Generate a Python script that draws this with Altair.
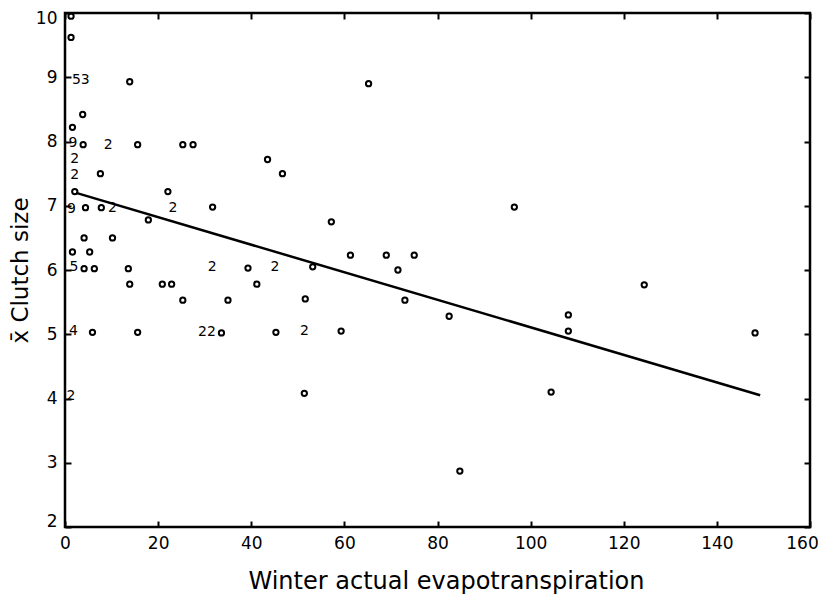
import altair as alt
import pandas as pd

# Observed points (winter AET, mean clutch size)
pt_x = [1.3, 1.3, 13.9, 3.8, 1.6, 3.9, 15.6, 25.3, 27.5, 7.6, 2.1, 22.1, 4.4, 7.8,
        17.9, 4.1, 10.2, 1.6, 5.3, 4.1, 6.3, 13.6, 13.9, 20.9, 22.9, 25.3, 5.9, 15.6,
        33.6, 43.5, 46.7, 31.7, 57.2, 61.3, 39.3, 53.2, 41.2, 35.0, 51.6, 45.3, 59.3,
        65.2, 69.0, 75.0, 71.5, 73.0, 82.5, 96.5, 108.1, 108.1, 104.4, 51.4, 84.8,
        124.4, 148.2]
pt_y = [9.95, 9.62, 8.93, 8.42, 8.22, 7.95, 7.95, 7.95, 7.95, 7.5, 7.22, 7.22, 6.97, 6.97,
        6.78, 6.5, 6.5, 6.28, 6.28, 6.02, 6.02, 6.02, 5.78, 5.78, 5.78, 5.53, 5.03, 5.03,
        5.02, 7.72, 7.5, 6.98, 6.75, 6.23, 6.03, 6.05, 5.78, 5.53, 5.55, 5.03, 5.05,
        8.9, 6.23, 6.23, 6.0, 5.53, 5.28, 6.98, 5.3, 5.05, 4.1, 4.08, 2.87,
        5.77, 5.02]

# Count labels for overlapping observations
lab_x = [3.4, 1.7, 9.3, 2.1, 2.1, 1.4, 10.2, 23.2, 1.9, 1.8, 1.3, 31.6, 45.1, 30.5, 51.4]
lab_y = [8.95, 7.97, 7.95, 7.73, 7.48, 6.95, 6.96, 6.96, 6.04, 5.05, 4.04, 6.04, 6.04, 5.03, 5.05]
lab_t = ["53", "9", "2", "2", "2", "9", "2", "2", "5", "4", "2", "2", "2", "22", "2"]

# Regression line end points
fit_x = [2.4, 149.3]
fit_y = [7.2, 4.05]

x_ticks = [0, 20, 40, 60, 80, 100, 120, 140, 160]
y_ticks = [2, 3, 4, 5, 6, 7, 8, 9, 10]

W, H = 745, 514
FONT = "DejaVu Sans"

pts = pd.DataFrame({"x": pt_x, "y": pt_y})
labs = pd.DataFrame({"x": lab_x, "y": lab_y, "t": lab_t})
fit = pd.DataFrame({"x": fit_x, "y": fit_y})

xs = alt.Scale(domain=[0, 160], nice=False, zero=False)
ys = alt.Scale(domain=[2, 10], nice=False, zero=False)

def tick_axis(orient, values, offset):
    return alt.Axis(orient=orient, values=values, labels=False, domain=False,
                    ticks=True, tickSize=6, tickWidth=2, tickColor="black",
                    grid=False, title=None, offset=offset)

points = alt.Chart(pts).mark_point(
    filled=False, color="black", size=28, strokeWidth=2, opacity=1
).encode(
    x=alt.X("x:Q", scale=xs, axis=alt.Axis(
        orient="bottom", values=x_ticks, format="d", tickSize=0, domain=False,
        grid=False, labelFont=FONT, labelFontSize=17, labelColor="black",
        labelFlush=False, labelPadding=8,
        labelOffset={"condition": {"test": "datum.value == 160", "value": -8}, "value": 0},
        title="Winter actual evapotranspiration",
        titleFont=FONT, titleFontSize=24, titleFontWeight="normal",
        titleColor="black", titlePadding=18, titleX=381)),
    y=alt.Y("y:Q", scale=ys, axis=alt.Axis(
        orient="left", values=y_ticks, format="d", tickSize=0, domain=False,
        grid=False, labelFont=FONT, labelFontSize=17, labelColor="black",
        labelPadding=8, labelFlush=True, labelFlushOffset=3,
        title="x\u0304  Clutch size",
        titleFont=FONT, titleFontSize=23, titleFontWeight="normal",
        titleColor="black", titlePadding=3)),
)

line = alt.Chart(fit).mark_line(color="black", strokeWidth=2.5).encode(
    x=alt.X("x:Q", scale=xs, axis=tick_axis("top", x_ticks, -H)),
    y=alt.Y("y:Q", scale=ys, axis=tick_axis("right", y_ticks, -W)),
)

texts = alt.Chart(labs).mark_text(
    font=FONT, fontSize=14, color="black"
).encode(
    x=alt.X("x:Q", scale=xs, axis=tick_axis("bottom", x_ticks, -H)),
    y=alt.Y("y:Q", scale=ys, axis=tick_axis("left", y_ticks, -W)),
    text="t:N",
)

chart = alt.layer(points, line, texts).resolve_axis(
    x="independent", y="independent"
).properties(
    width=W, height=H,
    autosize=alt.AutoSizeParams(type="none"),
    padding={"left": 57, "top": 5, "right": 9, "bottom": 73},
).configure(
    background="white"
).configure_view(
    stroke="black", strokeWidth=2.5
)

chart.save("out.html", embed_options={"renderer": "svg", "actions": False})
